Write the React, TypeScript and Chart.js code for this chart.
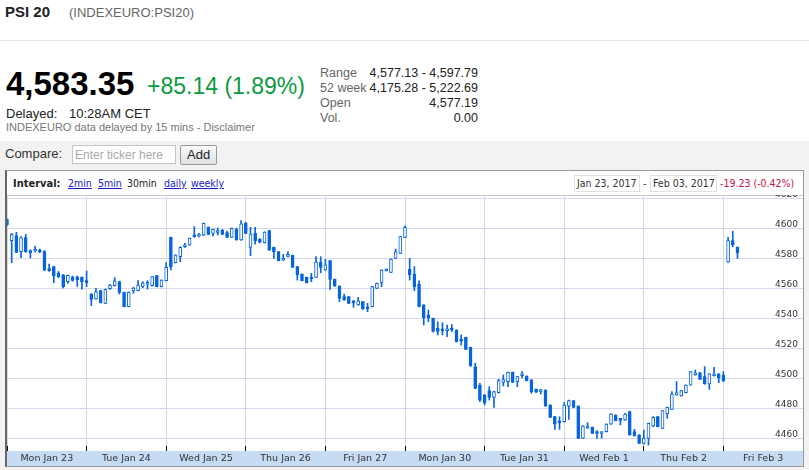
import React, { useEffect, useRef } from 'react';
import { Chart, registerables } from 'chart.js';

Chart.register(...registerables);

// ---- data ----
const dayLabels = ['Mon Jan 23', 'Tue Jan 24', 'Wed Jan 25', 'Thu Jan 26', 'Fri Jan 27', 'Mon Jan 30', 'Tue Jan 31', 'Wed Feb 1', 'Thu Feb 2', 'Fri Feb 3'];
const barsPerDay = 17;
const yTicks = [4460, 4480, 4500, 4520, 4540, 4560, 4580, 4600, 4620];

const open = [
  4605.8, 4591.6, 4594.9, 4584.2, 4593.6, 4585.0, 4584.5, 4585.5, 4584.2, 4573.0, 4574.2, 4570.0, 4568.7, 4564.2, 4567.5, 4567.5, 4567.1, 4565.0,
  4556.0, 4552.7, 4558.2, 4549.8, 4559.5, 4561.5, 4564.2, 4557.1, 4547.6, 4558.0, 4558.2, 4561.0, 4562.5, 4561.5, 4568.2, 4560.9, 4564.9,
  4593.8, 4576.9, 4580.9, 4587.5, 4588.7, 4595.5, 4594.5, 4595.3, 4600.4, 4596.4, 4597.0, 4598.6, 4596.9, 4593.8, 4599.1, 4592.0, 4603.1,
  4587.1, 4596.4, 4592.5, 4590.2, 4598.2, 4587.1, 4584.2, 4578.5, 4581.0, 4581.8, 4574.2, 4569.3, 4567.1, 4566.5, 4567.1, 4577.3, 4572.0,
  4578.2, 4565.8, 4561.3, 4554.2, 4554.2, 4551.5, 4548.7, 4550.9, 4547.5, 4547.6, 4559.8, 4563.8, 4571.5, 4570.4, 4579.8, 4583.1, 4593.8,
  4572.4, 4569.3, 4562.4, 4548.7, 4542.0, 4539.8, 4533.1, 4532.0, 4531.5, 4532.5, 4532.0, 4526.0, 4527.1, 4520.4, 4507.6, 4495.3, 4488.7,
  4491.6, 4487.1, 4490.2, 4497.0, 4497.6, 4503.8, 4497.6, 4501.5, 4501.3, 4498.7, 4492.5, 4491.0, 4492.0, 4482.0, 4474.2, 4471.5, 4470.9,
  4481.3, 4484.9, 4481.3, 4459.8, 4466.5, 4467.1, 4464.0, 4463.0, 4464.2, 4469.3, 4475.3, 4472.5, 4472.0, 4477.6, 4464.2, 4462.0, 4456.4,
  4459.8, 4468.0, 4474.2, 4466.4, 4476.0, 4479.1, 4488.7, 4488.0, 4490.2, 4495.3, 4502.0, 4503.5, 4500.9, 4496.0, 4501.5, 4502.7, 4502.0,
  4577.2, 4591.6, 4587.1,
];
const high = [
  4606.0, 4596.4, 4597.1, 4594.2, 4595.8, 4585.5, 4588.0, 4586.0, 4585.0, 4576.0, 4574.5, 4571.0, 4569.0, 4568.6, 4568.0, 4568.0, 4567.5, 4571.3,
  4556.3, 4559.8, 4558.5, 4559.3, 4562.5, 4566.9, 4564.5, 4557.3, 4557.3, 4560.5, 4564.9, 4564.2, 4564.9, 4567.8, 4568.4, 4565.5, 4576.9,
  4594.0, 4582.2, 4587.5, 4589.8, 4593.3, 4600.9, 4596.5, 4603.3, 4600.8, 4599.3, 4600.0, 4599.0, 4598.0, 4600.0, 4600.0, 4604.9, 4603.8,
  4600.4, 4600.4, 4593.0, 4597.5, 4598.5, 4587.3, 4584.4, 4582.4, 4584.2, 4582.0, 4574.4, 4569.5, 4567.3, 4569.8, 4580.9, 4580.9, 4579.1,
  4578.4, 4566.0, 4561.5, 4556.0, 4554.4, 4551.7, 4553.8, 4551.1, 4549.8, 4561.1, 4563.3, 4572.2, 4572.7, 4579.5, 4586.0, 4594.4, 4601.5,
  4579.8, 4574.2, 4564.7, 4548.9, 4545.3, 4540.0, 4537.5, 4536.9, 4535.3, 4535.7, 4532.2, 4528.7, 4527.3, 4520.6, 4509.8, 4496.4, 4488.9,
  4494.2, 4491.1, 4499.1, 4502.0, 4504.0, 4504.0, 4501.1, 4504.2, 4501.5, 4498.9, 4492.7, 4492.4, 4492.2, 4482.2, 4474.4, 4474.2, 4483.6,
  4485.3, 4485.1, 4481.5, 4468.2, 4470.2, 4467.3, 4465.0, 4464.0, 4469.5, 4476.2, 4475.5, 4473.1, 4476.5, 4478.0, 4465.8, 4462.2, 4465.3,
  4470.0, 4474.2, 4474.4, 4478.4, 4480.6, 4490.9, 4497.6, 4491.8, 4495.5, 4504.4, 4505.3, 4503.7, 4507.6, 4502.9, 4507.1, 4502.9, 4504.2,
  4593.8, 4597.8, 4587.5,
];
const low = [
  4601.5, 4576.9, 4583.5, 4580.2, 4583.8, 4580.0, 4584.0, 4583.5, 4571.5, 4571.0, 4563.6, 4567.0, 4560.0, 4563.0, 4564.5, 4561.0, 4559.3, 4560.9,
  4548.2, 4552.5, 4550.0, 4549.5, 4559.0, 4561.3, 4556.0, 4547.4, 4547.4, 4556.5, 4558.0, 4560.2, 4559.3, 4561.3, 4560.7, 4560.7, 4564.7,
  4572.0, 4576.7, 4577.5, 4587.0, 4588.5, 4593.8, 4594.0, 4595.0, 4595.5, 4594.7, 4595.3, 4595.5, 4593.6, 4593.6, 4591.8, 4591.8, 4596.2,
  4581.5, 4589.3, 4590.0, 4590.0, 4585.0, 4579.8, 4578.0, 4578.3, 4580.8, 4573.6, 4565.3, 4564.7, 4563.3, 4564.2, 4566.9, 4570.2, 4571.8,
  4559.1, 4561.1, 4550.9, 4551.8, 4549.6, 4547.1, 4548.5, 4545.8, 4544.2, 4547.4, 4559.6, 4560.9, 4571.3, 4570.2, 4579.6, 4582.9, 4593.6,
  4565.3, 4558.2, 4547.4, 4535.3, 4537.5, 4530.7, 4528.7, 4528.7, 4527.6, 4531.0, 4524.0, 4522.0, 4518.9, 4507.8, 4492.9, 4484.2, 4482.0,
  4485.3, 4480.4, 4490.0, 4494.7, 4494.2, 4496.9, 4494.2, 4500.0, 4498.0, 4489.8, 4490.3, 4489.3, 4481.1, 4473.6, 4465.8, 4465.8, 4470.7,
  4472.4, 4480.2, 4459.6, 4459.6, 4466.3, 4462.9, 4459.8, 4459.8, 4464.0, 4469.1, 4471.4, 4468.7, 4471.8, 4461.8, 4461.3, 4456.2, 4456.0,
  4455.3, 4467.6, 4467.4, 4466.2, 4473.1, 4478.9, 4488.5, 4487.8, 4490.0, 4495.1, 4501.8, 4498.9, 4495.8, 4492.4, 4501.3, 4496.9, 4497.6,
  4577.1, 4587.5, 4579.8,
];
const close = [
  4602.0, 4595.8, 4583.8, 4593.6, 4584.2, 4583.5, 4585.5, 4584.0, 4572.0, 4571.5, 4568.0, 4567.5, 4560.9, 4568.4, 4565.0, 4565.5, 4564.2, 4563.5,
  4552.4, 4557.6, 4550.2, 4559.1, 4562.0, 4564.7, 4557.1, 4547.6, 4557.1, 4560.0, 4562.0, 4563.5, 4562.8, 4567.6, 4560.9, 4565.3, 4573.8,
  4574.2, 4582.0, 4587.1, 4588.5, 4593.1, 4594.0, 4596.0, 4603.1, 4595.8, 4599.1, 4598.0, 4595.8, 4593.8, 4599.8, 4592.0, 4602.7, 4596.4,
  4596.0, 4591.6, 4590.5, 4597.3, 4585.3, 4584.2, 4578.2, 4579.5, 4582.5, 4573.8, 4568.7, 4564.9, 4563.5, 4566.0, 4577.3, 4573.8, 4575.5,
  4565.8, 4561.3, 4553.1, 4552.0, 4549.8, 4550.0, 4551.5, 4546.0, 4546.0, 4560.9, 4563.1, 4572.0, 4572.5, 4579.3, 4584.2, 4594.2, 4600.4,
  4568.7, 4560.9, 4547.6, 4540.2, 4540.0, 4531.0, 4531.0, 4531.5, 4532.5, 4532.0, 4524.2, 4524.5, 4519.1, 4508.0, 4493.1, 4485.3, 4483.6,
  4487.1, 4490.9, 4498.2, 4499.0, 4503.8, 4497.1, 4500.9, 4502.5, 4498.2, 4490.9, 4490.5, 4491.5, 4481.3, 4473.8, 4469.3, 4470.0, 4482.0,
  4484.9, 4480.4, 4459.8, 4468.0, 4468.0, 4463.1, 4463.0, 4463.5, 4469.3, 4476.0, 4471.6, 4471.8, 4476.0, 4462.0, 4461.5, 4456.4, 4459.8,
  4469.8, 4473.8, 4467.6, 4478.2, 4480.4, 4489.3, 4490.2, 4491.6, 4495.3, 4504.2, 4503.5, 4499.1, 4496.0, 4502.7, 4502.7, 4500.0, 4498.2,
  4591.6, 4588.7, 4583.35,
];

// ---- styles ----
const BLUE = '#0a64dc';
const SANS = '"Liberation Sans", Arial, sans-serif';
const COND = '"DejaVu Sans Condensed", "DejaVu Sans", sans-serif';
const AXIS_FONT = '"DejaVu Sans", Verdana, sans-serif';

function CandleChart() {
  const ref = useRef<HTMLCanvasElement | null>(null);
  useEffect(() => {
    if (!ref.current) return;
    const wicks = open.map((o, i) => ({ x: i, y: [Math.min(low[i], o, close[i]), Math.max(high[i], o, close[i])] }));
    const bodies = open.map((o, i) => ({ x: i, y: [o, close[i]] }));
    const dayTicks = dayLabels.map((_, d) => d * barsPerDay).concat([dayLabels.length * barsPerDay]);
    const chart = new Chart(ref.current, {
      type: 'bar',
      data: {
        datasets: [
          {
            data: wicks as any,
            backgroundColor: BLUE,
            borderWidth: 0,
            barThickness: 1,
            grouped: false,
            order: 2,
          } as any,
          {
            data: bodies as any,
            backgroundColor: (ctx: any) => (close[ctx.dataIndex] >= open[ctx.dataIndex] ? '#ffffff' : BLUE),
            borderColor: BLUE,
            borderWidth: 1,
            borderSkipped: false,
            barThickness: 3,
            minBarLength: 2,
            grouped: false,
            order: 1,
          } as any,
        ],
      },
      options: {
        animation: false,
        responsive: false,
        maintainAspectRatio: false,
        layout: { padding: 0, autoPadding: false } as any,
        plugins: { legend: { display: false }, tooltip: { enabled: false } },
        scales: {
          x: {
            type: 'linear',
            min: 0,
            max: dayLabels.length * barsPerDay,
            offset: false,
            grid: { color: '#d3d8d3', lineWidth: 1, offset: false, drawTicks: true, tickLength: 5, tickColor: '#000', tickWidth: 1 },
            border: { display: false },
            afterBuildTicks: (s: any) => { s.ticks = dayTicks.map((v) => ({ value: v })); },
            afterFit: (s: any) => { s.height = 20; s.paddingLeft = 0; s.paddingRight = 0; },
            ticks: {
              autoSkip: false,
              maxRotation: 0,
              minRotation: 0,
              labelOffset: 39.8,
              padding: 2,
              color: '#333',
              font: { family: AXIS_FONT, size: 9.5 },
              callback: (v: any) => dayLabels[Math.round(Number(v) / barsPerDay)] ?? '',
            },
          },
          y: {
            type: 'linear',
            position: 'right',
            min: 4454.67,
            max: 4622,
            grid: { color: '#d8d8ec', lineWidth: 1, drawTicks: false },
            border: { display: false },
            afterBuildTicks: (s: any) => { s.ticks = yTicks.map((v) => ({ value: v })); },
            afterFit: (s: any) => { s.width = 0; s.paddingTop = 0; s.paddingBottom = 0; },
            ticks: {
              mirror: true,
              padding: -5,
              labelOffset: -3,
              color: '#333',
              font: { family: AXIS_FONT, size: 9 },
              callback: (v: any) => String(v),
            },
          },
        },
      } as any,
    });
    return () => chart.destroy();
  }, []);
  return <canvas ref={ref} width={796} height={271} style={{ position: 'absolute', left: 7, top: 195, display: 'block' }} />;
}

function Txt(props: any) {
  const { x, right, b, size, color = '#222', bold = false, family = SANS, children, style = {} } = props;
  const pos: any = { position: 'absolute', top: b - size * 0.85 };
  if (right !== undefined) pos.right = 809 - right; else pos.left = x;
  return (
    <div style={{ ...pos, fontSize: size, lineHeight: `${size}px`, fontWeight: bold ? 700 : 400, color, fontFamily: family, whiteSpace: 'nowrap', ...style }}>
      {children}
    </div>
  );
}

const linkStyle = { color: '#1a1acc', textDecoration: 'underline' };

export default function App() {
  return (
    <div style={{ position: 'relative', width: 809, height: 470, background: '#fff', overflow: 'hidden', fontFamily: SANS }}>
      <style>{'body{margin:0}'}</style>
      <Txt x={5} b={17} size={15} bold color="#222">PSI 20</Txt>
      <Txt x={69} b={17} size={13} color="#666">(INDEXEURO:PSI20)</Txt>
      <div style={{ position: 'absolute', left: 0, top: 40, width: 809, height: 1, background: '#e5e5e5' }} />

      <Txt x={6} b={95} size={33} bold color="#000">4,583.35</Txt>
      <Txt x={147} b={95} size={23} color="#0c9a41">+85.14 (1.89%)</Txt>
      <Txt x={6} b={118} size={13} color="#222">Delayed:</Txt>
      <Txt x={69} b={118} size={13} color="#222">10:28AM CET</Txt>
      <Txt x={6} b={131} size={11} color="#777">INDEXEURO data delayed by 15 mins - Disclaimer</Txt>

      <Txt x={320} b={78} size={12.5} color="#666">Range</Txt>
      <Txt right={478} b={78} size={12.5} color="#222">4,577.13 - 4,597.79</Txt>
      <Txt x={320} b={93} size={12.5} color="#666">52 week</Txt>
      <Txt right={478} b={93} size={12.5} color="#222">4,175.28 - 5,222.69</Txt>
      <Txt x={320} b={108} size={12.5} color="#666">Open</Txt>
      <Txt right={478} b={108} size={12.5} color="#222">4,577.19</Txt>
      <Txt x={320} b={123} size={12.5} color="#666">Vol.</Txt>
      <Txt right={478} b={123} size={12.5} color="#222">0.00</Txt>

      <div style={{ position: 'absolute', left: 0, top: 141, width: 809, height: 329, background: '#f2f2f2' }} />
      <Txt x={5} b={158} size={13} color="#333">Compare:</Txt>
      <div style={{ position: 'absolute', left: 72, top: 145, width: 104, height: 19, boxSizing: 'border-box', border: '1px solid #c4c4c4', background: '#fff' }} />
      <Txt x={75} b={159} size={12} color="#aaa">Enter ticker here</Txt>
      <div style={{ position: 'absolute', left: 180, top: 145, width: 37, height: 20, boxSizing: 'border-box', border: '1px solid #9a9a9a', borderRadius: 2, background: 'linear-gradient(#f9f9f9,#e0e0e0)' }} />
      <Txt x={187} b={159} size={13} color="#222">Add</Txt>

      <div style={{ position: 'absolute', left: 5, top: 170, width: 799, height: 297, boxSizing: 'border-box', border: '1px solid #999', borderLeft: '2px solid #666', background: '#fff' }} />
      <Txt x={13} b={187} size={11} bold family={COND} color="#222">Interval:</Txt>
      <Txt x={68} b={187} size={10.5} family={COND} style={linkStyle}>2min</Txt>
      <Txt x={98} b={187} size={10.5} family={COND} style={linkStyle}>5min</Txt>
      <Txt x={127} b={187} size={10.5} family={COND} color="#222">30min</Txt>
      <Txt x={164} b={187} size={10.5} family={COND} style={linkStyle}>daily</Txt>
      <Txt x={191} b={187} size={10.5} family={COND} style={linkStyle}>weekly</Txt>

      <div style={{ position: 'absolute', left: 574, top: 175, width: 66, height: 17, boxSizing: 'border-box', border: '1px solid #e0e0e0', background: '#fff' }} />
      <Txt x={577} b={187} size={10.5} family={COND} color="#333">Jan 23, 2017</Txt>
      <Txt x={643} b={187} size={10.5} family={COND} color="#333">-</Txt>
      <div style={{ position: 'absolute', left: 650, top: 175, width: 67, height: 17, boxSizing: 'border-box', border: '1px solid #e0e0e0', background: '#fff' }} />
      <Txt x={653} b={187} size={10.5} family={COND} color="#333">Feb 03, 2017</Txt>
      <Txt x={720} b={187} size={10.5} family={COND} color="#cc1144">-19.23 (-0.42%)</Txt>

      <div style={{ position: 'absolute', left: 7, top: 195, width: 796, height: 1, background: '#c8c8c8' }} />
      <div style={{ position: 'absolute', left: 7, top: 451, width: 796, height: 15, background: '#c6dbf4' }} />
      <CandleChart />
    </div>
  );
}
